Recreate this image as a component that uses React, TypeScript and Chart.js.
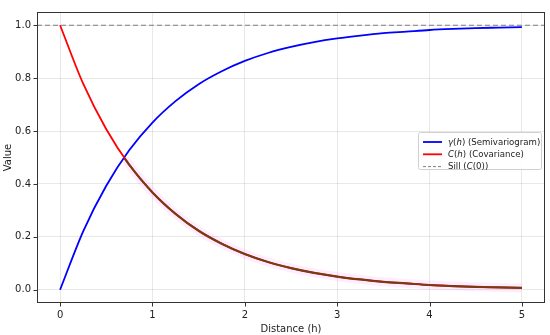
import React, { useEffect, useRef } from "react";
import { Chart, registerables } from "chart.js";

Chart.register(...registerables);

const distances = [0, 0.25, 0.5, 0.75, 1, 1.25, 1.5, 1.75, 2, 2.25, 2.5, 2.75, 3, 3.25, 3.5, 3.75, 4, 4.25, 4.5, 4.75, 5];
const semivariogram = [0, 0.221, 0.393, 0.528, 0.632, 0.713, 0.777, 0.826, 0.865, 0.895, 0.918, 0.936, 0.95, 0.961, 0.97, 0.976, 0.982, 0.986, 0.989, 0.991, 0.993];
const covariance = [1, 0.779, 0.607, 0.472, 0.368, 0.287, 0.223, 0.174, 0.135, 0.105, 0.082, 0.064, 0.05, 0.039, 0.03, 0.024, 0.018, 0.014, 0.011, 0.009, 0.007];
const overlayStart = { h: 0.7, v: 0.497 };
const SILL = 1;
const xRange = [-0.25, 5.25];
const yRange = [-0.05, 1.05];
const xTicks = [0, 1, 2, 3, 4, 5];
const yTicks = [0, 0.2, 0.4, 0.6, 0.8, 1.0];

const FONT = "'DejaVu Sans', sans-serif";

const framePlugin = {
  id: "frame",
  afterDraw(chart: any) {
    const { ctx, chartArea: a, scales } = chart;
    ctx.save();
    ctx.strokeStyle = "#333";
    ctx.lineWidth = 1;
    ctx.strokeRect(a.left + 0.5, a.top + 0.5, a.right - a.left - 1, a.bottom - a.top - 1);
    ctx.beginPath();
    xTicks.forEach((t) => {
      const x = Math.round(scales.x.getPixelForValue(t)) + 0.5;
      ctx.moveTo(x, a.bottom);
      ctx.lineTo(x, a.bottom + 3.5);
    });
    yTicks.forEach((t) => {
      const y = Math.round(scales.y.getPixelForValue(t)) + 0.5;
      ctx.moveTo(a.left, y);
      ctx.lineTo(a.left - 3.5, y);
    });
    ctx.stroke();

    // legend
    const lx = 418, ly = 132, lw = 123, lh = 37;
    ctx.fillStyle = "rgba(255,255,255,0.85)";
    ctx.strokeStyle = "#d0d0d0";
    ctx.lineWidth = 1;
    ctx.beginPath();
    (ctx as any).roundRect(lx + 0.5, ly + 0.5, lw, lh, 2);
    ctx.fill();
    ctx.stroke();
    const rows: any[] = [
      { color: "#0000ff", dash: [], parts: [["γ", true], ["(", false], ["h", true], [") (Semivariogram)", false]] },
      { color: "#ff0000", dash: [], parts: [["C", true], ["(", false], ["h", true], [") (Covariance)", false]] },
      { color: "#808080", dash: [3, 2], parts: [["Sill (", false], ["C", true], ["(0))", false]] },
    ];
    rows.forEach((r, i) => {
      const y = ly + 10 + i * 12.3;
      ctx.strokeStyle = r.color;
      ctx.lineWidth = r.dash.length ? 1 : 1.8;
      ctx.setLineDash(r.dash);
      ctx.beginPath();
      ctx.moveTo(lx + 5, y);
      ctx.lineTo(lx + 24, y);
      ctx.stroke();
      ctx.setLineDash([]);
      let x = lx + 30;
      ctx.fillStyle = "#222";
      ctx.textBaseline = "middle";
      r.parts.forEach(([txt, it]: [string, boolean]) => {
        ctx.font = `${it ? "italic " : ""}8.6px ${FONT}`;
        ctx.fillText(txt, x, y + 0.5);
        x += ctx.measureText(txt).width;
      });
    });
    ctx.restore();
  },
};

export default function App() {
  const ref = useRef<HTMLCanvasElement>(null);
  useEffect(() => {
    const toPts = (ys: number[]) => distances.map((h, i) => ({ x: h, y: ys[i] }));
    const overlay = [{ x: overlayStart.h, y: overlayStart.v }, ...toPts(covariance).filter((p) => p.x > overlayStart.h)];
    const chart = new Chart(ref.current!, {
      type: "line",
      data: {
        datasets: [
          {
            data: xRange.map((x) => ({ x, y: SILL })),
            borderColor: "#808080",
            borderWidth: 1.1,
            borderDash: [5, 3],
            pointRadius: 0,
            order: 0,
          },
          {
            data: overlay,
            borderColor: "#7a3a12",
            borderWidth: 2.2,
            pointRadius: 0,
            cubicInterpolationMode: "monotone",
            order: 1,
          },
          {
            data: overlay,
            borderColor: "rgba(255,0,255,0.07)",
            borderWidth: 9,
            pointRadius: 0,
            cubicInterpolationMode: "monotone",
            order: 2,
          },
          {
            data: toPts(covariance),
            borderColor: "#ff0000",
            borderWidth: 1.8,
            pointRadius: 0,
            cubicInterpolationMode: "monotone",
            order: 3,
          },
          {
            data: toPts(semivariogram),
            borderColor: "#0000ff",
            borderWidth: 1.8,
            pointRadius: 0,
            cubicInterpolationMode: "monotone",
            order: 4,
          },
        ],
      } as any,
      options: {
        animation: false,
        responsive: false,
        layout: { padding: { top: 7, right: 5, left: 0, bottom: 0 } },
        plugins: { legend: { display: false }, tooltip: { enabled: false } },
        scales: {
          x: {
            type: "linear",
            min: xRange[0],
            max: xRange[1],
            afterBuildTicks: (s: any) => {
              s.ticks = xTicks.map((v) => ({ value: v }));
            },
            afterFit: (s: any) => {
              s.height = 32;
            },
            grid: { color: "rgba(180,180,180,0.3)", drawTicks: false } as any,
            border: { display: false },
            ticks: { font: { family: FONT, size: 10 }, color: "#222", padding: 6, maxRotation: 0, callback: (v: any) => String(v) },
            title: { display: true, text: "Distance (h)", font: { family: FONT, size: 10 }, color: "#222", padding: { top: 1, bottom: 0 } },
          },
          y: {
            type: "linear",
            min: yRange[0],
            max: yRange[1],
            afterBuildTicks: (s: any) => {
              s.ticks = yTicks.map((v) => ({ value: v }));
            },
            afterFit: (s: any) => {
              s.width = 37;
            },
            grid: { color: "rgba(180,180,180,0.3)", drawTicks: false } as any,
            border: { display: false },
            ticks: { font: { family: FONT, size: 10 }, color: "#222", padding: 6, callback: (v: any) => Number(v).toFixed(1) },
            title: { display: true, text: "Value", font: { family: FONT, size: 10 }, color: "#222", padding: { top: 2, bottom: 2 } },
          },
        },
      },
      plugins: [framePlugin],
    });
    return () => chart.destroy();
  }, []);
  return <canvas ref={ref} width={550} height={335} style={{ display: "block", position: "absolute", left: 0, top: 0 }} />;
}
